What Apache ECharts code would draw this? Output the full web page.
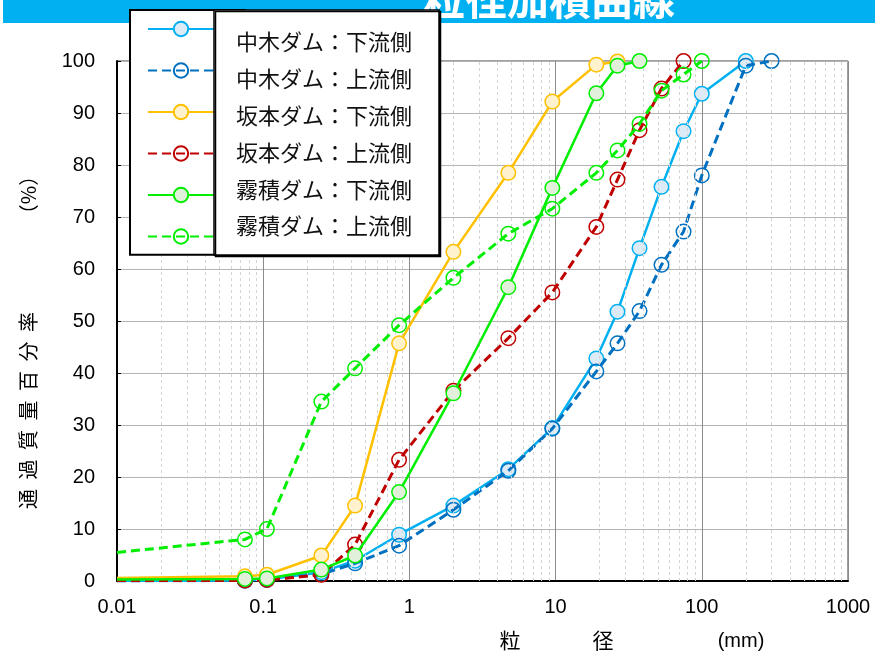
<!DOCTYPE html>
<html>
<head>
<meta charset="utf-8">
<script src="https://cdn.jsdelivr.net/npm/echarts/dist/echarts.min.js"></script>
<style>
  html, body { margin: 0; padding: 0; background: #fff; }
  #chart { width: 875px; height: 653px; }
</style>
</head>
<body>
<div id="chart"></div>
<script>
// Grain-size accumulation curves (粒径加積曲線) for three dams, downstream / upstream.
const seriesNames = [
  '中木ダム：下流側', '中木ダム：上流側',
  '坂本ダム：下流側', '坂本ダム：上流側',
  '霧積ダム：下流側', '霧積ダム：上流側'
];

// Sieve sizes (mm) and percent passing for each curve
const sizesNakagiDown = [0.01, 0.075, 0.106, 0.25, 0.425, 0.85, 2, 4.75, 9.5, 19, 26.5, 37.5, 53, 75, 100, 200];
const passNakagiDown  = [0, 0.1, 0.3, 1.7, 3.9, 8.9, 14.5, 21.5, 29.4, 42.8, 51.8, 64.0, 75.8, 86.5, 93.7, 100];

const sizesNakagiUp = [0.01, 0.075, 0.106, 0.25, 0.425, 0.85, 2, 4.75, 9.5, 19, 26.5, 37.5, 53, 75, 100, 200, 300];
const passNakagiUp  = [0, 0.1, 0.2, 1.3, 3.4, 6.8, 13.7, 21.2, 29.3, 40.3, 45.7, 51.9, 60.8, 67.2, 78.0, 99.1, 100];

const sizesSakamotoDown = [0.01, 0.075, 0.106, 0.25, 0.425, 0.85, 2, 4.75, 9.5, 19, 26.5];
const passSakamotoDown  = [0.6, 0.9, 1.2, 4.9, 14.5, 45.7, 63.3, 78.5, 92.2, 99.3, 99.9];

const sizesSakamotoUp = [0.01, 0.075, 0.106, 0.25, 0.425, 0.85, 2, 4.75, 9.5, 19, 26.5, 37.5, 53, 75];
const passSakamotoUp  = [0.1, 0.1, 0.2, 1.2, 7.0, 23.3, 36.6, 46.7, 55.5, 68.1, 77.2, 86.7, 94.7, 100];

const sizesKirizumiDown = [0.01, 0.075, 0.106, 0.25, 0.425, 0.85, 2, 4.75, 9.5, 19, 26.5, 37.5];
const passKirizumiDown  = [0.3, 0.4, 0.5, 2.2, 4.9, 17.1, 36.1, 56.5, 75.6, 93.8, 99.1, 100];

const sizesKirizumiUp = [0.01, 0.075, 0.106, 0.25, 0.425, 0.85, 2, 4.75, 9.5, 19, 26.5, 37.5, 53, 75, 100];
const passKirizumiUp  = [5.5, 8.0, 10.0, 34.5, 40.9, 49.2, 58.3, 66.8, 71.6, 78.5, 82.8, 87.9, 94.3, 97.4, 100];

// Axis settings
const xMin = 0.01, xMax = 1000;
const yMin = 0, yMax = 100, yStep = 10;
const decadeStarts = [0.01, 0.1, 1, 10, 100];
const minorMultipliers = [2, 3, 4, 5, 6, 7, 8, 9];

const jpFont = '"Noto Sans CJK JP", "Noto Sans", sans-serif';
const numFont = '"Liberation Sans", Arial, sans-serif';

// Builds [size, pass] pairs; the point on the left boundary is drawn without a marker
function buildData(sizes, pass) {
  return sizes.map((s, i) => s === xMin
    ? { value: [s, pass[i]], symbol: 'none' }
    : { value: [s, pass[i]] });
}

const styles = [
  { line: '#00B0F0', fill: '#DDEBF7', dashed: false },
  { line: '#0070C0', fill: 'rgba(0,0,0,0)', dashed: true },
  { line: '#FFC000', fill: '#FFF2CC', dashed: false },
  { line: '#C00000', fill: 'rgba(0,0,0,0)', dashed: true },
  { line: '#00EE00', fill: '#E2EFDA', dashed: false },
  { line: '#00EE00', fill: 'rgba(0,0,0,0)', dashed: true }
];

const dataSets = [
  buildData(sizesNakagiDown, passNakagiDown),
  buildData(sizesNakagiUp, passNakagiUp),
  buildData(sizesSakamotoDown, passSakamotoDown),
  buildData(sizesSakamotoUp, passSakamotoUp),
  buildData(sizesKirizumiDown, passKirizumiDown),
  buildData(sizesKirizumiUp, passKirizumiUp)
];

const curveSeries = seriesNames.map((name, i) => ({
  name: name,
  type: 'line',
  data: dataSets[i],
  symbol: 'circle',
  symbolSize: 14.5,
  z: 3 + i,
  lineStyle: {
    color: styles[i].line,
    width: styles[i].dashed ? 3 : 2.5,
    type: styles[i].dashed ? [9, 5] : 'solid'
  },
  itemStyle: {
    color: styles[i].fill,
    borderColor: styles[i].line,
    borderWidth: 1.5
  },
  emphasis: { disabled: true }
}));

// Minor logarithmic grid lines (2..9 within each decade)
const minorLines = [];
decadeStarts.forEach(d => minorMultipliers.forEach(m => minorLines.push({ xAxis: +(d * m).toPrecision(6) })));

const gridSeries = {
  type: 'line',
  data: [],
  silent: true,
  z: 1,
  markLine: {
    silent: true,
    symbol: 'none',
    label: { show: false },
    lineStyle: { color: '#D4D4D4', type: [3, 3], width: 1 },
    emphasis: { disabled: true },
    data: minorLines
  }
};

// Vertical y-axis title, one glyph per slot
const yTitleChars = ['通', '過', '質', '量', '百', '分', '率'];
const yTitleChildren = yTitleChars.map((c, i) => ({
  type: 'text',
  x: -156 + i * 29.5, y: 0,
  style: { text: c, font: '20px ' + jpFont, fill: '#000', textAlign: 'center', textVerticalAlign: 'middle' }
}));
yTitleChildren.push({
  type: 'text',
  x: 148, y: 0,
  style: { text: '（%）', font: '20px ' + jpFont, fill: '#000', textAlign: 'center', textVerticalAlign: 'middle' }
});

const chart = echarts.init(document.getElementById('chart'), null, { renderer: 'canvas' });

chart.setOption({
  animation: false,
  backgroundColor: '#fff',
  grid: {
    left: 117, right: 27, top: 61, bottom: 72,
    show: true, borderColor: '#404040', borderWidth: 1, backgroundColor: 'transparent'
  },
  xAxis: {
    type: 'log',
    logBase: 10,
    min: xMin,
    max: xMax,
    axisLine: { show: true, onZero: false, lineStyle: { color: '#000', width: 2 } },
    axisTick: { show: false },
    axisLabel: {
      fontSize: 20, fontFamily: numFont, color: '#000', margin: 16,
      formatter: v => String(parseFloat(Number(v).toPrecision(6)))
    },
    splitLine: { show: true, lineStyle: { color: '#8C8C8C', width: 1 } },
    minorTick: { show: false },
    minorSplitLine: { show: false }
  },
  yAxis: {
    type: 'value',
    min: yMin,
    max: yMax,
    interval: yStep,
    axisLine: { show: true, lineStyle: { color: '#000', width: 2 } },
    axisTick: { show: true, inside: true, length: 4, lineStyle: { color: '#000' } },
    axisLabel: { fontSize: 20, fontFamily: numFont, color: '#000', margin: 22 },
    splitLine: { show: true, lineStyle: { color: '#B4B4B4', width: 1 } }
  },
  legend: [
    {
      // line and marker samples
      data: seriesNames,
      orient: 'vertical',
      left: 130, top: 10,
      padding: [10, 30, 10, 17],
      itemWidth: 66, itemHeight: 18,
      itemGap: 24.3,
      formatter: () => '',
      textStyle: { fontSize: 10 },
      selectedMode: false,
      backgroundColor: '#fff',
      borderColor: '#000',
      borderWidth: 2,
      z: 10
    },
    {
      // series names
      data: seriesNames,
      orient: 'vertical',
      left: 214, top: 10,
      padding: [21, 27, 18, 16],
      icon: 'rect',
      itemWidth: 0, itemHeight: 0,
      itemGap: 14.8,
      textStyle: { fontSize: 22, lineHeight: 22, fontFamily: jpFont, color: '#111' },
      selectedMode: false,
      backgroundColor: '#fff',
      borderColor: '#000',
      borderWidth: 1.5,
      shadowColor: '#000',
      shadowBlur: 0,
      shadowOffsetX: 1.5,
      shadowOffsetY: 1.5,
      z: 12
    }
  ],
  graphic: [
    {
      type: 'rect', z: 1, silent: true,
      shape: { x: 3, y: 0, width: 872, height: 23 },
      style: { fill: '#00B0F0' }
    },
    {
      type: 'text', z: 2, silent: true,
      x: 549, y: -1,
      style: { text: '粒径加積曲線', font: 'bold 42px ' + jpFont, fill: '#fff', textAlign: 'center', textVerticalAlign: 'middle' }
    },
    {
      type: 'group', silent: true,
      x: 28, y: 343, rotation: Math.PI / 2,
      children: yTitleChildren
    },
    {
      type: 'text', silent: true, x: 510, y: 640,
      style: { text: '粒', font: '21px ' + jpFont, fill: '#000', textAlign: 'center', textVerticalAlign: 'middle' }
    },
    {
      type: 'text', silent: true, x: 603, y: 640,
      style: { text: '径', font: '21px ' + jpFont, fill: '#000', textAlign: 'center', textVerticalAlign: 'middle' }
    },
    {
      type: 'text', silent: true, x: 741, y: 641,
      style: { text: '(mm)', font: '20px ' + numFont, fill: '#000', textAlign: 'center', textVerticalAlign: 'middle' }
    }
  ],
  series: [gridSeries].concat(curveSeries)
});
</script>
</body>
</html>
